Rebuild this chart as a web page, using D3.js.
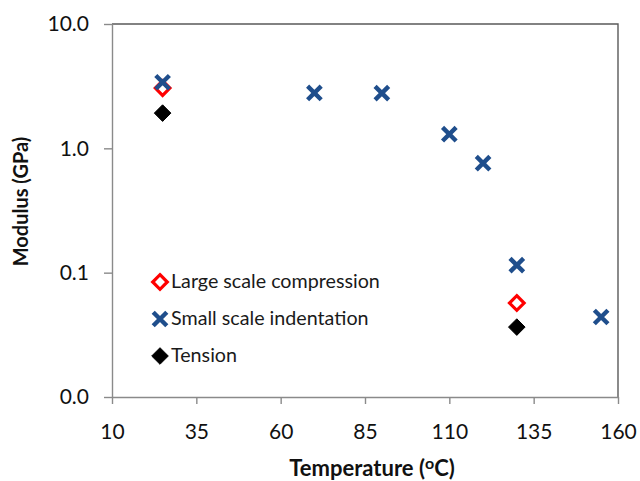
<!DOCTYPE html>
<html><head><meta charset="utf-8">
<script src="https://cdn.jsdelivr.net/npm/d3@7"></script>
<style>body{margin:0;background:#fff}svg{display:block}</style>
</head><body>
<svg id="c" width="640" height="481"></svg>
<script>
const xTicks = [10, 35, 60, 85, 110, 135, 160];
const yTicks = [0.01, 0.1, 1, 10];
const yTickLabels = ["0.0", "0.1", "1.0", "10.0"];
const compressionT = [25, 130];
const compressionE = [3.05, 0.057];
const indentationT = [25, 70, 90, 110, 120, 130, 155];
const indentationE = [3.4, 2.79, 2.78, 1.30, 0.76, 0.115, 0.044];
const tensionT = [25, 130];
const tensionE = [1.92, 0.0365];
const seriesNames = ["Large scale compression", "Small scale indentation", "Tension"];

const svg = d3.select("#c");
const m = {l:112, r:618, t:24, b:397};
const x = d3.scaleLinear().domain([10,160]).range([m.l, m.r]);
const y = d3.scaleLog().domain([0.01,10]).range([m.b, m.t]);
const font = "Lato, 'Open Sans', sans-serif";
const axisCol = "#8a8a8a";
const frameCol = "#5a5a5a";

// frame (top & right)
svg.append("path").attr("d",`M${m.l},${m.t}H${m.r}V${m.b}`)
  .attr("fill","none").attr("stroke",frameCol).attr("stroke-width",1.4);

const xa = svg.append("g").attr("transform",`translate(0,${m.b})`)
  .call(d3.axisBottom(x).tickValues(xTicks).tickSize(7).tickSizeOuter(0).tickPadding(20).tickFormat(d3.format("d")));
const ya = svg.append("g").attr("transform",`translate(${m.l},0)`)
  .call(d3.axisLeft(y).tickValues(yTicks).tickSize(8).tickSizeOuter(0).tickPadding(15).tickFormat((d,i)=>yTickLabels[i]));
[xa,ya].forEach(a=>{
  a.select(".domain").attr("stroke",axisCol).attr("stroke-width",1.4);
  a.selectAll(".tick line").attr("stroke",axisCol).attr("stroke-width",1.4);
  a.selectAll("text").attr("fill","#111").style("font-family",font).style("font-size","21px");
});

// titles
svg.append("text").attr("x",372).attr("y",476).attr("text-anchor","middle")
  .style("font-family",font).style("font-size","22px").style("font-weight","bold").attr("fill","#111")
  .html('Temperature (<tspan dy="-7" font-size="16px">o</tspan><tspan dy="7">C)</tspan>');
svg.append("text").attr("transform",`translate(28,${(138+265)/2}) rotate(-90)`).attr("text-anchor","middle")
  .style("font-family",font).style("font-size","20px").style("font-weight","bold").attr("fill","#111")
  .text("Modulus (GPa)");

function diamond(g, cx, cy, hollow, color){
  const s = hollow ? 7.3 : 8.3;
  g.append("path").attr("d",`M${cx},${cy-s}L${cx+s},${cy}L${cx},${cy+s}L${cx-s},${cy}Z`)
   .attr("fill", hollow ? "#fff" : color).attr("stroke", color).attr("stroke-width", hollow?3.2:1);
}
function cross(g, cx, cy){
  const s = 6.8;
  g.append("path").attr("d",`M${cx-s},${cy-s}L${cx+s},${cy+s}M${cx-s},${cy+s}L${cx+s},${cy-s}`)
   .attr("stroke","#1F4E8C").attr("stroke-width",4.4).attr("fill","none");
}
const pts = svg.append("g");
tensionT.forEach((t,i)=>diamond(pts, x(t), y(tensionE[i]), false, "#000"));
compressionT.forEach((t,i)=>diamond(pts, x(t), y(compressionE[i]), true, "#FF0000"));
indentationT.forEach((t,i)=>cross(pts, x(t), y(indentationE[i])));

// legend
const lg = svg.append("g");
const ly = [282, 319, 356];
diamond(lg, 160, ly[0], true, "#FF0000");
cross(lg, 160, ly[1]);
diamond(lg, 160, ly[2], false, "#000");
lg.selectAll("text.l").data(seriesNames).join("text").attr("class","l")
  .attr("x",171).attr("y",(d,i)=>ly[i]+6)
  .style("font-family",font).style("font-size","19.7px").attr("fill","#1a1a1a").text(d=>d);
</script>
</body></html>
